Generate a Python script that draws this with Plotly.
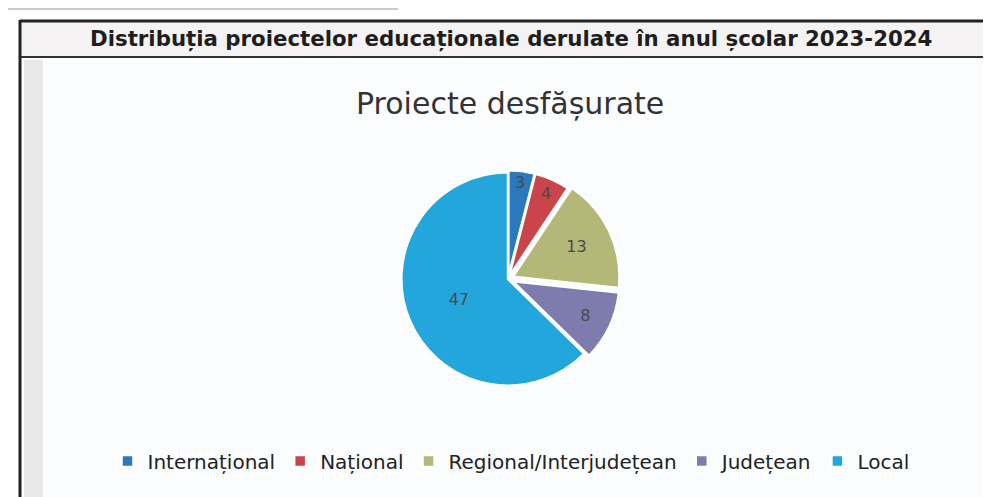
import plotly.graph_objects as go

categories = ["Internațional", "Național", "Regional/Interjudețean", "Județean", "Local"]
values = [3, 4, 13, 8, 47]
colors = ["#2c78bd", "#c9454b", "#b3b777", "#7e7cae", "#23a6dc"]
pulls = [0.02, 0.02, 0.05, 0.05, 0.0]

W, H = 991, 497
def px(x):
    return x / W
def py(y):
    return 1 - y / H

cx, cy, r = 500, 271, 112
fig = go.Figure(go.Pie(
    labels=categories,
    values=values,
    sort=False,
    direction="clockwise",
    rotation=0,
    pull=pulls,
    marker=dict(colors=colors, line=dict(color="white", width=2.5)),
    textinfo="value",
    textposition="inside",
    insidetextorientation="horizontal",
    textfont=dict(family="DejaVu Sans", size=16, color="#4a4a4a"),
    domain=dict(x=[px(cx - r), px(cx + r)], y=[py(cy + r), py(cy - r)]),
    hoverinfo="label+value",
))

shapes = [
    dict(type="rect", xref="paper", yref="paper", x0=px(36), x1=px(978), y0=py(497), y1=py(50),
         fillcolor="#fbfcfe", line=dict(width=0), layer="below"),
    dict(type="rect", xref="paper", yref="paper", x0=px(16), x1=px(35), y0=py(497), y1=py(52),
         fillcolor="#e9e9e9", line=dict(width=0), layer="below"),
    dict(type="rect", xref="paper", yref="paper", x0=px(981), x1=px(991), y0=py(497), y1=py(52),
         fillcolor="#e6e6e6", line=dict(width=0), layer="below"),
    dict(type="rect", xref="paper", yref="paper", x0=px(13), x1=px(991), y0=py(48), y1=py(14),
         fillcolor="#f4f2f2", line=dict(width=0), layer="below"),
    dict(type="line", xref="paper", yref="paper", x0=px(12), x1=px(991), y0=py(13), y1=py(13),
         line=dict(color="#222", width=3)),
    dict(type="line", xref="paper", yref="paper", x0=px(12), x1=px(991), y0=py(49), y1=py(49),
         line=dict(color="#333", width=2)),
    dict(type="line", xref="paper", yref="paper", x0=px(12), x1=px(12), y0=py(12), y1=py(497),
         line=dict(color="#222", width=3)),
    dict(type="line", xref="paper", yref="paper", x0=px(0), x1=px(390), y0=py(1), y1=py(1),
         line=dict(color="#999", width=1)),
]

annotations = [
    dict(text="<b>Distribuția proiectelor educaționale derulate în anul școlar 2023-2024</b>",
         xref="paper", yref="paper", x=px(503), y=py(31), xanchor="center", yanchor="middle",
         showarrow=False, font=dict(family="DejaVu Sans", size=21.3, color="#1e1e1e")),
    dict(text="Proiecte desfășurate",
         xref="paper", yref="paper", x=px(502), y=py(95), xanchor="center", yanchor="middle",
         showarrow=False, font=dict(family="DejaVu Sans", size=30, color="#333333")),
]

fig.update_layout(
    width=W, height=H,
    margin=dict(l=0, r=0, t=0, b=0),
    paper_bgcolor="white",
    plot_bgcolor="white",
    shapes=shapes,
    annotations=annotations,
    showlegend=True,
    legend=dict(orientation="h", x=px(503), y=py(453), xanchor="center", yanchor="middle",
                font=dict(family="DejaVu Sans", size=20, color="#222222"),
                itemwidth=30, bgcolor="rgba(0,0,0,0)", traceorder="normal"),
)

fig.write_html("out.html")
